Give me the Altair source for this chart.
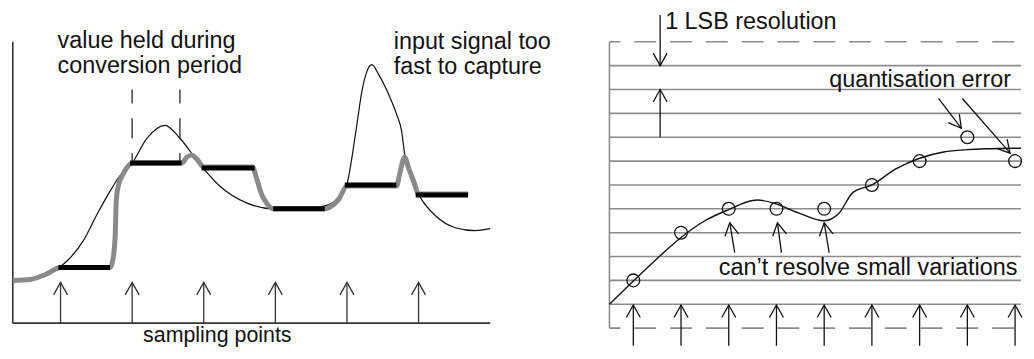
import altair as alt
import pandas as pd

FONT = "Liberation Sans"
INK = "#111111"
AXIS = "#333333"
GREY = "#8a8a8a"
GRID = "#8c8c8c"
HEAD = "M-0.5,0.9L0,0L0.5,0.9"
FS = 23.5
PANEL_H = 339
RIGHT_W = 414
K_END = 0.5 + RIGHT_W / 48

# ---------------- left panel: sample and hold (time in sampling periods) ----------------
sample_t = [1, 2, 3, 4, 5, 6]
hold_start = [0.97, 1.97, 2.97, 3.97, 4.97, 5.96]
hold_end = [1.69, 2.69, 3.71, 4.69, 5.69, 6.69]
hold_v = [6.1, 16.6, 16.1, 12.0, 14.4, 13.4]
axis_v = 0.5

input_t = [1.0, 1.097, 1.319, 1.514, 1.694, 1.806, 2.0, 2.208, 2.458, 2.667, 2.944,
           3.222, 3.597, 3.958, 4.333, 4.694, 4.889, 5.0, 5.125, 5.208, 5.278, 5.347,
           5.444, 5.583, 5.694, 5.764, 5.806, 5.889, 6.028, 6.236, 6.514, 6.792, 7.0]
input_v = [6.2, 6.8, 8.8, 11.5, 13.8, 15.1, 16.6, 19.1, 20.4, 19.1, 16.5,
           14.3, 12.6, 12.0, 12.0, 12.3, 13.2, 14.5, 19.8, 23.8, 25.8, 26.5,
           25.5, 23.5, 21.5, 19.8, 17.5, 15.1, 13.1, 11.3, 10.1, 9.8, 10.0]

output_t = [0.333, 0.583, 0.792, 1.0, 1.694, 1.736, 1.764, 1.778, 1.806, 1.875, 1.972, 2.0,
            2.694, 2.764, 2.833, 2.903, 3.0, 3.681, 3.736, 3.806, 3.875, 3.972, 4.0,
            4.694, 4.792, 4.889, 5.0, 5.694, 5.736, 5.806, 5.861, 5.931, 6.0, 6.694]
output_v = [4.8, 4.9, 5.4, 6.1, 6.1, 7.1, 9.5, 12.8, 14.3, 15.5, 16.5, 16.6,
            16.6, 17.2, 17.4, 17.0, 16.2, 16.2, 15.1, 13.5, 12.6, 12.0, 12.0,
            12.0, 12.3, 13.0, 14.3, 14.3, 15.5, 17.2, 16.1, 14.8, 13.5, 13.5]

top_texts = ["value held during\nconversion period", "input signal too\nfast to capture"]
top_text_t = [0.958, 5.653]
top_text_v = [28.2, 28.1]
bottom_text = ["sampling points"]
bottom_text_t = [2.153]
bottom_text_v = [-1.35]

# ---------------- right panel: quantisation (x in samples, y in LSB levels) ----------------
levels_solid = list(range(1, 12))
levels_dashed = [0, 12]
sample_k = [1, 2, 3, 4, 5, 6, 7, 8, 9]
quant_L = [2, 4, 5, 5, 5, 6, 7, 8, 7]

curve_k = [0.5, 1.0, 1.5, 2.0, 2.5, 3.0, 3.5, 3.6, 4.0, 4.5, 5.0, 5.3, 5.6, 6.0,
           6.5, 7.0, 7.5, 8.0, 8.5, 9.0, K_END]
curve_L = [1.0, 1.97, 2.92, 3.8, 4.5, 4.97, 5.35, 5.37, 5.2, 4.8, 4.5, 4.79, 5.68, 6.0,
           6.67, 7.12, 7.38, 7.48, 7.52, 7.54, 7.54]

# annotation arrows: start (k0, L0) -> tip (k1, L1)
ann_k0 = [1.5625, 1.5625, 7.396, 7.896, 3.125, 4.104, 5.104]
ann_L0 = [13.125, 8.0, 9.625, 9.625, 3.167, 3.167, 3.167]
ann_k1 = [1.5625, 1.5625, 7.875, 8.896, 3.021, 4.021, 5.0]
ann_L1 = [11.0, 10.0, 8.375, 7.333, 4.417, 4.417, 4.417]
ann_angle = [180, 0, 142.5, 138.9, 350.5, 350.5, 350.5]

right_texts = ["1 LSB resolution", "quantisation error", "can\u2019t resolve small variations"]
right_text_k = [1.667, 5.104, 2.792]
right_text_L = [12.54, 10.125, 2.208]

# ---------------- scales (10 px per amplitude unit, 24 px per LSB) ----------------
xl = alt.Scale(domain=[0.28, 7.0], nice=False, zero=False)
yl = alt.Scale(domain=[32 - PANEL_H / 10, 32], nice=False, zero=False)
xr = alt.Scale(domain=[0.5, K_END], nice=False, zero=False)
yr = alt.Scale(domain=[13.3333 - PANEL_H / 24, 13.3333], nice=False, zero=False)


def X(f, sc):
    return alt.X(f, type="quantitative", scale=sc, axis=None)


def Y(f, sc):
    return alt.Y(f, type="quantitative", scale=sc, axis=None)


def segs(x0, y0, x1, y1, xs, ys, **mk):
    df = pd.DataFrame({"x0": x0, "y0": y0, "x1": x1, "y1": y1})
    return alt.Chart(df).mark_rule(**mk).encode(
        x=X("x0", xs), y=Y("y0", ys), x2="x1", y2="y1")


def heads(xv, yv, ang, xs, ys, color=INK):
    df = pd.DataFrame({"x": xv, "y": yv, "a": ang})
    return alt.Chart(df).mark_point(shape=HEAD, size=784, filled=False, stroke=color,
                                    strokeWidth=1.3, opacity=1).encode(
        x=X("x", xs), y=Y("y", ys), angle=alt.Angle("a:Q", scale=None))


def texts(xv, yv, tv, xs, ys, size=FS):
    df = pd.DataFrame({"x": xv, "y": yv, "t": tv})
    return alt.Chart(df).mark_text(align="left", baseline="alphabetic", font=FONT,
                                   fontSize=size, color=INK, lineBreak="\n",
                                   lineHeight=25.5).encode(
        x=X("x", xs), y=Y("y", ys), text="t:N")


# ---------------- left panel ----------------
left_axes = segs([0.333, 0.333], [axis_v, axis_v], [0.333, 7.0], [28.8, axis_v], xl, yl,
                 color=AXIS, strokeWidth=1.6)
left_arrows = segs(sample_t, [axis_v] * 6, sample_t, [4.6] * 6, xl, yl, color=AXIS, strokeWidth=1.3)
left_heads = heads(sample_t, [4.6] * 6, [0] * 6, xl, yl, color=AXIS)
dashed_hold = segs([2.0, 2.667], [16.5, 16.5], [2.0, 2.667], [24.0, 24.0], xl, yl,
                   color="#444444", strokeWidth=1.5, strokeDash=[20, 15], strokeDashOffset=9)
input_line = alt.Chart(pd.DataFrame({"t": input_t, "v": input_v})).mark_line(
    color=INK, strokeWidth=1.2, interpolate="monotone").encode(x=X("t", xl), y=Y("v", yl))
output_line = alt.Chart(pd.DataFrame({"t": output_t, "v": output_v})).mark_line(
    color=GREY, strokeWidth=5, interpolate="monotone", strokeJoin="round").encode(
    x=X("t", xl), y=Y("v", yl))
holds = segs(hold_start, hold_v, hold_end, hold_v, xl, yl, color="#000000", strokeWidth=5)
left_txt = texts(top_text_t, top_text_v, top_texts, xl, yl)
bottom_txt = texts(bottom_text_t, bottom_text_v, bottom_text, xl, yl, size=21.5)

left = alt.layer(left_axes, left_arrows, left_heads, dashed_hold, input_line, output_line,
                 holds, left_txt, bottom_txt).properties(width=484, height=PANEL_H)

# ---------------- right panel ----------------
n_s = len(levels_solid)
grid_solid = segs([0.5] * n_s, levels_solid, [K_END] * n_s, levels_solid, xr, yr,
                  color=GRID, strokeWidth=1.6)
grid_dash = segs([0.5] * 2, levels_dashed, [K_END] * 2, levels_dashed, xr, yr,
                 color=GRID, strokeWidth=1.6, strokeDash=[22, 14], strokeDashOffset=11)
grid_left = segs([0.5], [0], [0.5], [12], xr, yr, color=GRID, strokeWidth=1.6)
r_arrows = segs(sample_k, [-0.74] * 9, sample_k, [0.97] * 9, xr, yr, color=INK, strokeWidth=1.3)
r_heads = heads(sample_k, [0.97] * 9, [0] * 9, xr, yr)
curve = alt.Chart(pd.DataFrame({"k": curve_k, "L": curve_L})).mark_line(
    color=INK, strokeWidth=1.4, interpolate="monotone").encode(x=X("k", xr), y=Y("L", yr))
circles = alt.Chart(pd.DataFrame({"k": sample_k, "L": quant_L})).mark_point(
    shape="circle", size=165, filled=False, stroke=INK, strokeWidth=1.3, opacity=1).encode(
    x=X("k", xr), y=Y("L", yr))
ann_lines = segs(ann_k0, ann_L0, ann_k1, ann_L1, xr, yr, color=INK, strokeWidth=1.3)
ann_heads = heads(ann_k1, ann_L1, ann_angle, xr, yr)
right_txt = texts(right_text_k, right_text_L, right_texts, xr, yr)

right = alt.layer(grid_solid, grid_dash, grid_left, r_arrows, r_heads, curve, circles,
                  ann_lines, ann_heads, right_txt).properties(width=RIGHT_W, height=PANEL_H)

chart = alt.hconcat(left, right, spacing=120).properties(
    padding=0, bounds="flush"
).configure_view(stroke="transparent")

chart.save("out.html", embed_options={"renderer": "svg", "actions": False})
